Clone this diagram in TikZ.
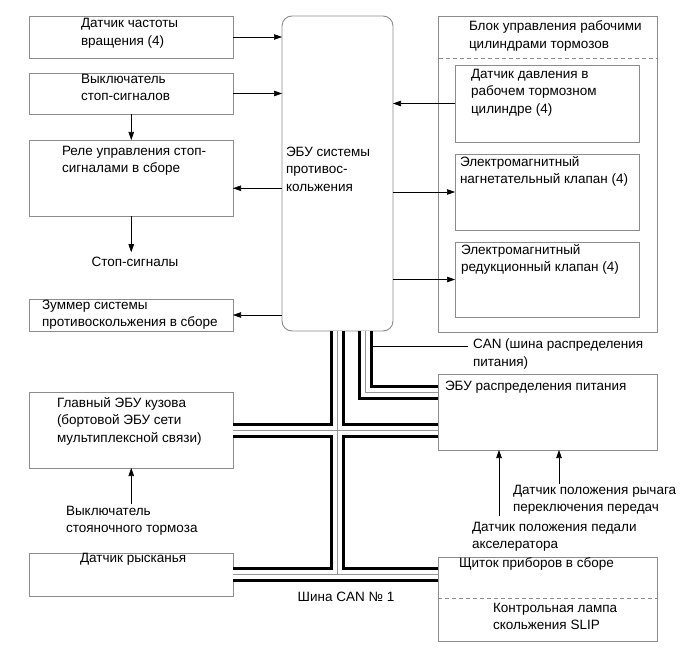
\documentclass[tikz,border=0pt]{standalone}
\usepackage{fontspec}
\setmainfont{Liberation Sans}
\usetikzlibrary{arrows.meta,calc}
\definecolor{boxgray}{RGB}{140,140,140}
\definecolor{busgrayc}{RGB}{150,150,150}
\begin{document}
\begin{tikzpicture}[x=1pt,y=-1pt,
  box/.style={draw=boxgray,line width=0.9pt,inner sep=0pt,outer sep=0pt},
  txt/.style={inner sep=0pt,outer sep=0pt,anchor=north west,align=left,font=\fontsize{13.5}{17.5}\selectfont},
  arr/.style={draw=black,line width=0.6pt,-{Triangle[length=8pt,width=5.5pt]}},
  thinline/.style={draw=black,line width=0.6pt},
  dashline/.style={draw=boxgray,line width=0.8pt,dash pattern=on 4pt off 3pt},
  busblack/.style={draw=black,line width=15pt},
  buswhite/.style={draw=white,line width=9pt},
  busgray/.style={draw=busgrayc,line width=1pt}]
\useasboundingbox (0,0) rectangle (690,660);
\fill[white] (0,0) rectangle (690,660);
% boxes
\node[box,minimum width=203.5pt,minimum height=42pt] (d1) at (131.25,37) {};
\node[box,minimum width=203.5pt,minimum height=41pt] (d2) at (131.25,93.5) {};
\node[box,minimum width=203.5pt,minimum height=76.5pt] (rel) at (131.25,178.25) {};
\node[box,minimum width=203.5pt,minimum height=32pt] (zum) at (131.25,315) {};
\node[box,rounded corners=10pt,minimum width=111pt,minimum height=315pt] (ecu) at (337.5,173.5) {};
\node[box,minimum width=218.5pt,minimum height=316pt] (blk) at (547.75,174) {};
\node[box,minimum width=184pt,minimum height=77pt] (ib1) at (547,103.5) {};
\node[box,minimum width=184pt,minimum height=76pt] (ib2) at (547,192) {};
\node[box,minimum width=184pt,minimum height=75pt] (ib3) at (547,279.5) {};
\node[box,minimum width=203.5pt,minimum height=76pt] (ge) at (131.25,430) {};
\node[box,minimum width=203.5pt,minimum height=43pt] (yaw) at (131.25,574.5) {};
\node[box,minimum width=219pt,minimum height=76pt] (pd) at (547.5,412) {};
\node[box,minimum width=219pt,minimum height=84pt] (dash) at (547.5,599) {};
% dashed separators
\draw[dashline] (blk.west |- 0,58) -- (blk.east |- 0,58);
\draw[dashline] (dash.west |- 0,598) -- (dash.east |- 0,598);
% texts
\node[txt] (t1) at (81,18.5) {Датчик частоты\\вращения (4)};
\node[txt] (t2) at (81,74) {Выключатель\\стоп-сигналов};
\node[txt] (t3) at (62,146) {Реле управления стоп-\\сигналами в сборе};
\node[txt,anchor=center] (stop) at (135,262) {Стоп-сигналы};
\node[txt] (t5) at (42,300) {Зуммер системы\\противоскольжения в сборе};
\node[txt] (t6) at (286,147) {ЭБУ системы\\противос-\\кольжения};
\node[txt] (t7) at (469,21) {Блок управления рабочими\\цилиндрами тормозов};
\node[txt] (t8) at (471,69) {Датчик давления в\\рабочем тормозном\\цилиндре (4)};
\node[txt] (t9) at (460,156) {Электромагнитный\\нагнетательный клапан (4)};
\node[txt] (t10) at (461,244) {Электромагнитный\\редукционный клапан (4)};
\node[txt] (t11) at (57,397) {Главный ЭБУ кузова\\(бортовой ЭБУ сети\\мультиплексной связи)};
\node[txt] (park) at (66,506) {Выключатель\\стояночного тормоза};
\node[txt] (t13) at (80,553.5) {Датчик рысканья};
\node[txt,anchor=center] (can1) at (346,597) {Шина CAN № 1};
\node[txt] (cantxt) at (473,339) {CAN (шина распределения\\питания)};
\node[txt] (t16) at (445,381) {ЭБУ распределения питания};
\node[txt] (gear) at (513,485) {Датчик положения рычага\\переключения передач};
\node[txt] (ped) at (472,522) {Датчик положения педали\\акселератора};
\node[txt] (t19) at (459,558) {Щиток приборов в сборе};
\node[txt] (t20) at (493,603) {Контрольная лампа\\скольжения SLIP};
% arrows
\coordinate (r3) at ([yshift=-10pt]rel.east);
\draw[arr] (d1.east) -- (d1.east -| ecu.west);
\draw[arr] (d2.east) -- (d2.east -| ecu.west);
\draw[arr] (d2.south) -- (rel.north);
\draw[arr] (r3 -| ecu.west) -- (r3);
\draw[arr] (rel.south) -- ([yshift=5pt]rel.south |- stop.north);
\draw[arr] (zum.east -| ecu.west) -- (zum.east);
\draw[arr] (ib1.west) -- (ib1.west -| ecu.east);
\draw[arr] (ib2.west -| ecu.east) -- (ib2.west);
\draw[arr] (ib3.west -| ecu.east) -- (ib3.west);
\draw[arr] ([yshift=2pt]ge.south |- park.north) -- (ge.south);
\coordinate (pedfoot) at (499,516);
\coordinate (gearfoot) at (559,484);
\draw[arr] (pedfoot) -- (pedfoot |- pd.south);
\draw[arr] (gearfoot) -- (gearfoot |- pd.south);
% buses
\coordinate (b2top) at ([xshift=27.5pt]ecu.south);
\coordinate (b2corner) at ($(b2top)+(0,61)$);
\foreach \lay in {busblack,buswhite,busgray}{
  \draw[\lay] (ecu.south) -- (ecu.south |- yaw.east);
  \draw[\lay] (ge.east) -- (ge.east -| pd.west);
  \draw[\lay] (yaw.east) -- (yaw.east -| dash.west);
  \draw[\lay] (b2top) -- (b2corner) -- (b2corner -| pd.west);
}
\coordinate (canend) at (468,346);
\draw[thinline] ($(b2top |- canend)+(7,0)$) -- (canend);
\end{tikzpicture}
\end{document}
